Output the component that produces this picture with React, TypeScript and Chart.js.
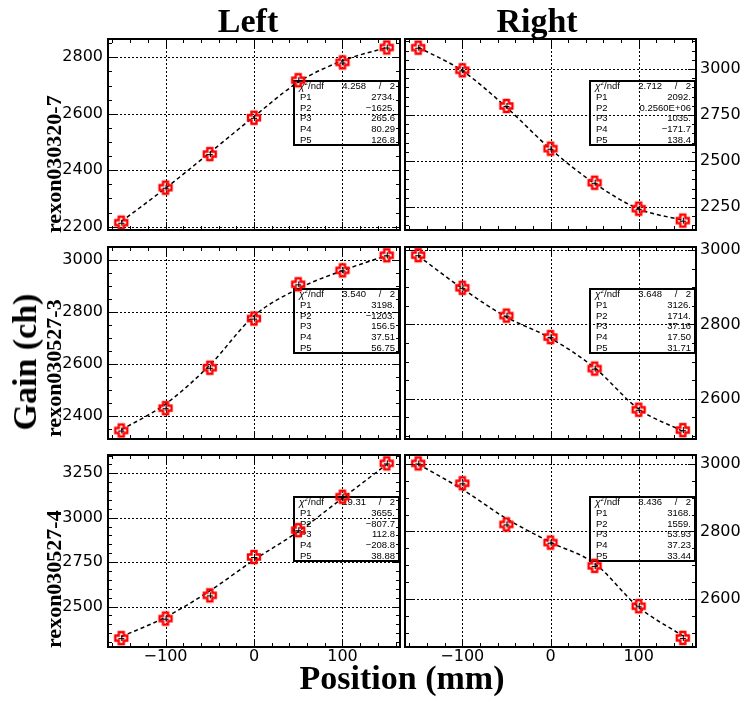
import React, { useEffect, useRef } from 'react';
import { Chart, registerables } from 'chart.js';

Chart.register(...registerables);

// ---------- data ----------
const positions = [-150, -100, -50, 0, 50, 100, 150];
const xTicks = [-100, 0, 100];
const xRange = [-165, 165];

// Left column
const gainL1 = [2214, 2338, 2457, 2586, 2719, 2782, 2835];
const fitL1 = [2218, 2336, 2462, 2590, 2712, 2788, 2835];
const yTicksL1 = [2200, 2400, 2600, 2800];
const yRangeL1 = [2188, 2865];
const chiL1 = ['4.258', '2'];
const parL1 = ['2734.', '\u22121625.', '265.6', '80.29', '126.8'];

const gainL2 = [2343, 2429, 2585, 2775, 2907, 2961, 3019];
const fitL2 = [2345, 2445, 2595, 2785, 2890, 2960, 3018];
const yTicksL2 = [2400, 2600, 2800, 3000];
const yRangeL2 = [2310, 3051];
const chiL2 = ['3.540', '2'];
const parL2 = ['3198.', '\u22121203.', '156.5', '37.51', '56.75'];

const gainL3 = [2322, 2432, 2563, 2779, 2930, 3118, 3306];
const fitL3 = [2330, 2440, 2588, 2762, 2922, 3110, 3300];
const yTicksL3 = [2500, 2750, 3000, 3250];
const yRangeL3 = [2272, 3353];
const chiL3 = ['19.31', '2'];
const parL3 = ['3655.', '\u2212807.7', '112.8', '\u2212208.8', '38.88'];

// Right column
const gainR1 = [3116, 2993, 2799, 2567, 2382, 2241, 2176];
const fitR1 = [3118, 2990, 2792, 2565, 2378, 2240, 2178];
const yTicksR1 = [2250, 2500, 2750, 3000];
const yRangeR1 = [2125, 3163];
const chiR1 = ['2.712', '2'];
const parR1 = ['2092.', '0.2560E+06', '1035.', '\u2212171.7', '138.4'];

const gainR2 = [2987, 2899, 2824, 2766, 2681, 2570, 2515];
const fitR2 = [2985, 2897, 2820, 2763, 2683, 2572, 2512];
const yTicksR2 = [2600, 2800, 3000];
const yRangeR2 = [2491, 3009];
const chiR2 = ['3.648', '2'];
const parR2 = ['3126.', '1714.', '37.16', '17.50', '31.71'];

const gainR3 = [3002, 2943, 2821, 2767, 2698, 2578, 2484];
const fitR3 = [3000, 2925, 2838, 2768, 2705, 2575, 2490];
const yTicksR3 = [2600, 2800, 3000];
const yRangeR3 = [2457, 3027];
const chiR3 = ['8.436', '2'];
const parR3 = ['3168.', '1559.', '53.93', '37.23', '33.44'];

const rowLabels = ['rexon030320-7', 'rexon030527-3', 'rexon030527-4'];
const colTitles = ['Left', 'Right'];

// ---------- layout ----------
const ROW_TOP = [39, 247, 455];
const ROW_BOTTOM = [230, 439, 647];

type PanelCfg = {
  row: number; col: number;
  gain: number[]; fit: number[]; ticks: number[]; range: number[];
  chi: string[]; par: string[];
};

const PANELS: PanelCfg[] = [
  { row: 0, col: 0, gain: gainL1, fit: fitL1, ticks: yTicksL1, range: yRangeL1, chi: chiL1, par: parL1 },
  { row: 1, col: 0, gain: gainL2, fit: fitL2, ticks: yTicksL2, range: yRangeL2, chi: chiL2, par: parL2 },
  { row: 2, col: 0, gain: gainL3, fit: fitL3, ticks: yTicksL3, range: yRangeL3, chi: chiL3, par: parL3 },
  { row: 0, col: 1, gain: gainR1, fit: fitR1, ticks: yTicksR1, range: yRangeR1, chi: chiR1, par: parR1 },
  { row: 1, col: 1, gain: gainR2, fit: fitR2, ticks: yTicksR2, range: yRangeR2, chi: chiR2, par: parR2 },
  { row: 2, col: 1, gain: gainR3, fit: fitR3, ticks: yTicksR3, range: yRangeR3, chi: chiR3, par: parR3 },
];

const fmt = (v: number | string) => String(v).replace('-', '\u2212');

let markerCanvas: HTMLCanvasElement | null = null;
function getMarker() {
  if (markerCanvas) return markerCanvas;
  const c = document.createElement('canvas');
  c.width = 18; c.height = 18;
  const ctx = c.getContext('2d')!;
  const cx = 9, cy = 9, a = 6, b = 2.5;
  ctx.strokeStyle = '#000';
  ctx.lineWidth = 1;
  ctx.beginPath();
  ctx.moveTo(cx - 3, cy + 0.5); ctx.lineTo(cx + 3, cy + 0.5);
  ctx.moveTo(cx + 0.5, cy - 3); ctx.lineTo(cx + 0.5, cy + 3);
  ctx.stroke();
  ctx.strokeStyle = '#ff0000';
  ctx.lineWidth = 2.4;
  ctx.lineJoin = 'miter';
  ctx.beginPath();
  ctx.moveTo(cx - b, cy - a);
  ctx.lineTo(cx + b, cy - a);
  ctx.lineTo(cx + b, cy - b);
  ctx.lineTo(cx + a, cy - b);
  ctx.lineTo(cx + a, cy + b);
  ctx.lineTo(cx + b, cy + b);
  ctx.lineTo(cx + b, cy + a);
  ctx.lineTo(cx - b, cy + a);
  ctx.lineTo(cx - b, cy + b);
  ctx.lineTo(cx - a, cy + b);
  ctx.lineTo(cx - a, cy - b);
  ctx.lineTo(cx - b, cy - b);
  ctx.closePath();
  ctx.stroke();
  markerCanvas = c;
  return c;
}

function rootPlugin(cfg: PanelCfg) {
  return {
    id: 'rootStyle',
    beforeDatasetsDraw(chart: any) {
      const { ctx, chartArea: a } = chart;
      const xs = chart.scales.x, ys = chart.scales.y;
      ctx.save();
      ctx.strokeStyle = '#000';
      ctx.lineWidth = 1;
      ctx.setLineDash([2, 2]);
      ctx.beginPath();
      xs.ticks.forEach((t: any) => {
        const px = Math.round(xs.getPixelForValue(t.value)) + 0.5;
        ctx.moveTo(px, a.top); ctx.lineTo(px, a.bottom);
      });
      ys.ticks.forEach((t: any) => {
        const py = Math.round(ys.getPixelForValue(t.value)) + 0.5;
        ctx.moveTo(a.left, py); ctx.lineTo(a.right, py);
      });
      ctx.stroke();
      ctx.setLineDash([]);

      // stats box (transparent)
      const bw = 105, bh = 64;
      const bx = a.right - bw - 1, by = a.top + 42;
      ctx.lineWidth = 2;
      ctx.strokeRect(bx, by, bw, bh);
      ctx.fillStyle = '#000';
      ctx.textBaseline = 'middle';
      const rh = bh / 6;
      const f = '"Liberation Sans", Arial, sans-serif';
      let yy = by + rh * 0.5 + 0.5;
      ctx.textAlign = 'left';
      ctx.font = 'italic 10px ' + f;
      ctx.fillText('\u03c7', bx + 5, yy);
      ctx.font = '6px ' + f;
      ctx.fillText('2', bx + 10.5, yy - 3);
      ctx.font = '9.5px ' + f;
      ctx.fillText('/ndf', bx + 14, yy);
      ctx.textAlign = 'right';
      ctx.fillText(cfg.chi[0], bx + 72, yy);
      ctx.textAlign = 'center';
      ctx.fillText('/', bx + 86, yy);
      ctx.textAlign = 'right';
      ctx.fillText(cfg.chi[1], bx + bw - 4, yy);
      cfg.par.forEach((p, i) => {
        const y2 = by + rh * (i + 1.5) + 0.5;
        ctx.textAlign = 'left';
        ctx.fillText('P' + (i + 1), bx + 6, y2);
        ctx.textAlign = 'right';
        ctx.fillText(p, bx + bw - 4, y2);
      });
      ctx.restore();
    },
    afterDatasetsDraw(chart: any) {
      const { ctx, chartArea: a } = chart;
      const xs = chart.scales.x, ys = chart.scales.y;
      ctx.save();
      ctx.strokeStyle = '#000';
      ctx.lineWidth = 1;
      ctx.beginPath();
      const xMajor = xs.ticks.map((t: any) => t.value);
      const yMajor = ys.ticks.map((t: any) => t.value);
      for (let v = Math.ceil(xs.min / 20) * 20; v <= xs.max; v += 20) {
        const len = xMajor.includes(v) ? 8 : 4;
        const px = Math.round(xs.getPixelForValue(v)) + 0.5;
        ctx.moveTo(px, a.bottom); ctx.lineTo(px, a.bottom - len);
        ctx.moveTo(px, a.top); ctx.lineTo(px, a.top + len);
      }
      for (let v = Math.ceil(ys.min / 50) * 50; v <= ys.max; v += 50) {
        const len = yMajor.includes(v) ? 8 : 4;
        const py = Math.round(ys.getPixelForValue(v)) + 0.5;
        ctx.moveTo(a.left, py); ctx.lineTo(a.left + len, py);
        ctx.moveTo(a.right, py); ctx.lineTo(a.right - len, py);
      }
      ctx.stroke();
      ctx.lineWidth = 2;
      ctx.strokeRect(a.left, a.top, a.right - a.left, a.bottom - a.top);
      ctx.restore();
    },
  };
}

function Panel({ cfg }: { cfg: PanelCfg }) {
  const ref = useRef<HTMLCanvasElement>(null);
  const isLeft = cfg.col === 0;
  const isBottom = cfg.row === 2;
  const canvasLeft = isLeft ? 30 : 402;
  const canvasWidth = isLeft ? 372 : 340;
  const T = ROW_TOP[cfg.row], B = ROW_BOTTOM[cfg.row];
  const xh = isBottom ? 40 : 10;
  const canvasTop = T - 10;
  const canvasHeight = B - T + 10 + xh;

  useEffect(() => {
    const tickFont = { family: '"DejaVu Sans", sans-serif', size: 16 };
    const chart = new Chart(ref.current as HTMLCanvasElement, {
      type: 'line',
      data: {
        datasets: [
          {
            data: positions.map((x, i) => ({ x, y: cfg.fit[i] })),
            borderColor: '#000',
            borderWidth: 1.5,
            borderDash: [4, 3],
            pointRadius: 0,
            cubicInterpolationMode: 'monotone',
            fill: false,
            order: 2,
          } as any,
          {
            data: positions.map((x, i) => ({ x, y: cfg.gain[i] })),
            showLine: false,
            pointStyle: getMarker(),
            pointRadius: 7,
            clip: false,
            order: 1,
          } as any,
        ],
      },
      options: {
        animation: false,
        responsive: false,
        devicePixelRatio: 1,
        events: [],
        layout: { autoPadding: false, padding: { left: isLeft ? 0 : 3, right: isLeft ? 2 : 0, top: 10, bottom: 0 } },
        plugins: { legend: { display: false }, tooltip: { enabled: false } },
        scales: {
          x: {
            type: 'linear',
            position: 'bottom',
            min: xRange[0],
            max: xRange[1],
            afterBuildTicks: (s: any) => { s.ticks = xTicks.map((v) => ({ value: v })); },
            afterFit: (s: any) => { s.height = xh; s.paddingLeft = 0; s.paddingRight = 0; },
            grid: { display: false, drawTicks: false },
            border: { display: false },
            ticks: {
              display: isBottom,
              padding: 0,
              font: tickFont,
              color: '#000',
              maxRotation: 0,
              autoSkip: false,
              callback: (v: any) => fmt(v),
            },
          },
          y: {
            type: 'linear',
            position: isLeft ? 'left' : 'right',
            min: cfg.range[0],
            max: cfg.range[1],
            afterBuildTicks: (s: any) => { s.ticks = cfg.ticks.map((v) => ({ value: v })); },
            afterFit: (s: any) => { s.width = isLeft ? 78 : 46; s.paddingTop = 0; s.paddingBottom = 0; },
            grid: { display: false, drawTicks: false },
            border: { display: false },
            ticks: {
              padding: isLeft ? 5 : 4,
              font: tickFont,
              color: '#000',
              autoSkip: false,
              callback: (v: any) => fmt(v),
            },
          },
        },
      } as any,
      plugins: [rootPlugin(cfg) as any],
    });
    return () => chart.destroy();
  }, []);

  return (
    <canvas
      ref={ref}
      width={canvasWidth}
      height={canvasHeight}
      style={{ position: 'absolute', left: canvasLeft, top: canvasTop, width: canvasWidth, height: canvasHeight }}
    />
  );
}

const serif = '"Liberation Serif", "Times New Roman", serif';

export default function App() {
  const rowLabelBottoms = [233, 437, 648];
  const titleCenters = [248, 537];
  return (
    <div style={{ position: 'fixed', left: 0, top: 0, width: 742, height: 701, background: '#fff', overflow: 'hidden' }}>
      {PANELS.map((p, i) => <Panel key={i} cfg={p} />)}
      {colTitles.map((t, i) => (
        <div key={t} style={{
          position: 'absolute', left: titleCenters[i], top: 4, transform: 'translateX(-50%)',
          fontFamily: serif, fontWeight: 'bold', fontSize: 34, lineHeight: '34px', whiteSpace: 'nowrap', color: '#000',
        }}>{t}</div>
      ))}
      {rowLabels.map((t, i) => (
        <div key={t} style={{
          position: 'absolute', left: 43, top: rowLabelBottoms[i], transformOrigin: '0 0', transform: 'rotate(-90deg)',
          fontFamily: serif, fontWeight: 'bold', fontSize: 22, lineHeight: '22px', whiteSpace: 'nowrap', color: '#000',
        }}>{t}</div>
      ))}
      <div style={{
        position: 'absolute', left: 0, top: 0,
        transform: 'translate(25px, 362px) translate(-50%, -50%) rotate(-90deg)',
        fontFamily: serif, fontWeight: 'bold', fontSize: 34, lineHeight: '34px', whiteSpace: 'nowrap', color: '#000',
      }}>Gain (ch)</div>
      <div style={{
        position: 'absolute', left: 402, top: 661, transform: 'translateX(-50%)',
        fontFamily: serif, fontWeight: 'bold', fontSize: 34, lineHeight: '34px', whiteSpace: 'nowrap', color: '#000',
      }}>Position (mm)</div>
    </div>
  );
}
